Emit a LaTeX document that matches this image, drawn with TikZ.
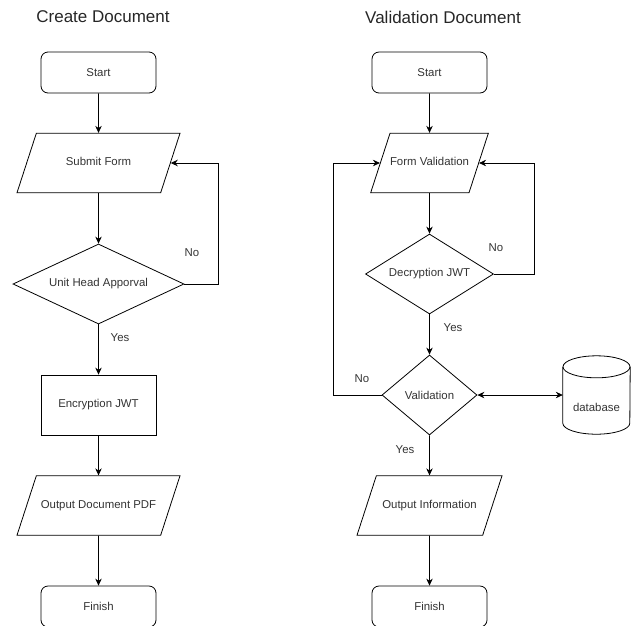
\documentclass[tikz,border=0pt]{standalone}
\usepackage{fontspec}
\setmainfont{Liberation Sans}
\usepackage{xcolor}
\usepackage{tikz}
\usetikzlibrary{positioning,calc,arrows.meta,shapes.geometric}

\definecolor{txtgrey}{HTML}{333333}

\begin{document}
\begin{tikzpicture}[x=1pt,y=-1pt,
	every node/.style={text=txtgrey,font=\fontsize{11.4}{13}\selectfont},
	line/.style={line width=0.8pt,draw=black},
	arr/.style={line,-{Stealth[length=7pt,width=6.5pt]}},
	terminal/.style={line,rectangle,rounded corners=7pt,minimum width=115pt,minimum height=41pt,inner sep=0pt},
	process/.style={line,rectangle,minimum width=115pt,minimum height=60pt,inner sep=0pt},
	io/.style={line,trapezium,trapezium left angle=72,trapezium right angle=108,trapezium stretches body,
		text height=8pt,text depth=2.5pt,inner xsep=0pt,inner ysep=24.5pt},
	decision/.style={line,diamond,inner sep=0pt,minimum height=80pt},
	store/.style={rectangle,minimum width=67pt,minimum height=78pt,inner sep=0pt},
	title/.style={font=\fontsize{17}{20}\selectfont,text=black!85},
	lbl/.style={inner sep=0pt}]
	\useasboundingbox (0,0) rectangle (631,625);
	\def\ry{11}

	% Create Document
	\node[title] (titleL) at (103,17) {Create Document};
	\node[terminal] (startL) at (98.5,72.5) {Start};
	\node[io,minimum width=163pt] (submit) at (98.5,163) {Submit Form};
	\node[decision,aspect=2.14,minimum width=171pt] (approval) at (98.5,284) {Unit Head Apporval};
	\node[process] (encrypt) at (98.5,405) {Encryption JWT};
	\node[io,minimum width=163pt] (outPdf) at (98.5,505.5) {Output Document PDF};
	\node[terminal] (finishL) at (98.5,606.5) {Finish};

	\draw[arr] (startL) -- (submit);
	\draw[arr] (submit) -- (approval);
	\draw[arr] (approval) -- (encrypt);
	\draw[arr] (encrypt) -- (outPdf);
	\draw[arr] (outPdf) -- (finishL);
	\draw[arr] (approval.east) -- (218,284) |- (submit.east);
	\node[lbl] (noL) at (192,253) {No};
	\node[lbl] (yesL) at (120,338) {Yes};

	% Validation Document
	\node[title] (titleR) at (443,17) {Validation Document};
	\node[terminal] (startR) at (429.5,72.5) {Start};
	\node[io,minimum width=115pt] (formVal) at (429.5,163) {Form Validation};
	\node[decision,aspect=1.6,minimum width=128pt] (decrypt) at (429.5,274) {Decryption JWT};
	\node[decision,aspect=1.19,minimum width=95pt] (valid) at (429.5,395) {Validation};
	\node[io,minimum width=145pt] (outInfo) at (429.5,505.5) {Output Information};
	\node[terminal] (finishR) at (429.5,606.5) {Finish};

	% database cylinder
	\node[store] (db) at (596.5,395) {};
	\draw[line] ($(db.north west)+(0,\ry)$) -- ($(db.south west)+(0,-\ry)$)
		arc[start angle=180,end angle=0,x radius=33.5,y radius=\ry] -- ($(db.north east)+(0,\ry)$);
	\draw[line] ($(db.north)+(0,\ry)$) ellipse[x radius=33.5,y radius=\ry];
	\node[lbl] (dbText) at ($(db.center)+(0,12)$) {database};

	\draw[arr] (startR) -- (formVal);
	\draw[arr] (formVal) -- (decrypt);
	\draw[arr] (decrypt) -- (valid);
	\draw[arr] (valid) -- (outInfo);
	\draw[arr] (outInfo) -- (finishR);
	\draw[arr] (decrypt.east) -- (534,274) |- (formVal.east);
	\draw[arr] (valid.west) -- (333,395) |- (formVal.west);
	\draw[line,{Stealth[length=7pt,width=6.5pt]}-{Stealth[length=7pt,width=6.5pt]}] (valid.east) -- (db.west);
	\node[lbl] (noR1) at (496,248) {No};
	\node[lbl] (yesR1) at (453,328) {Yes};
	\node[lbl] (noR2) at (362,379) {No};
	\node[lbl] (yesR2) at (405,450) {Yes};
\end{tikzpicture}
\end{document}
